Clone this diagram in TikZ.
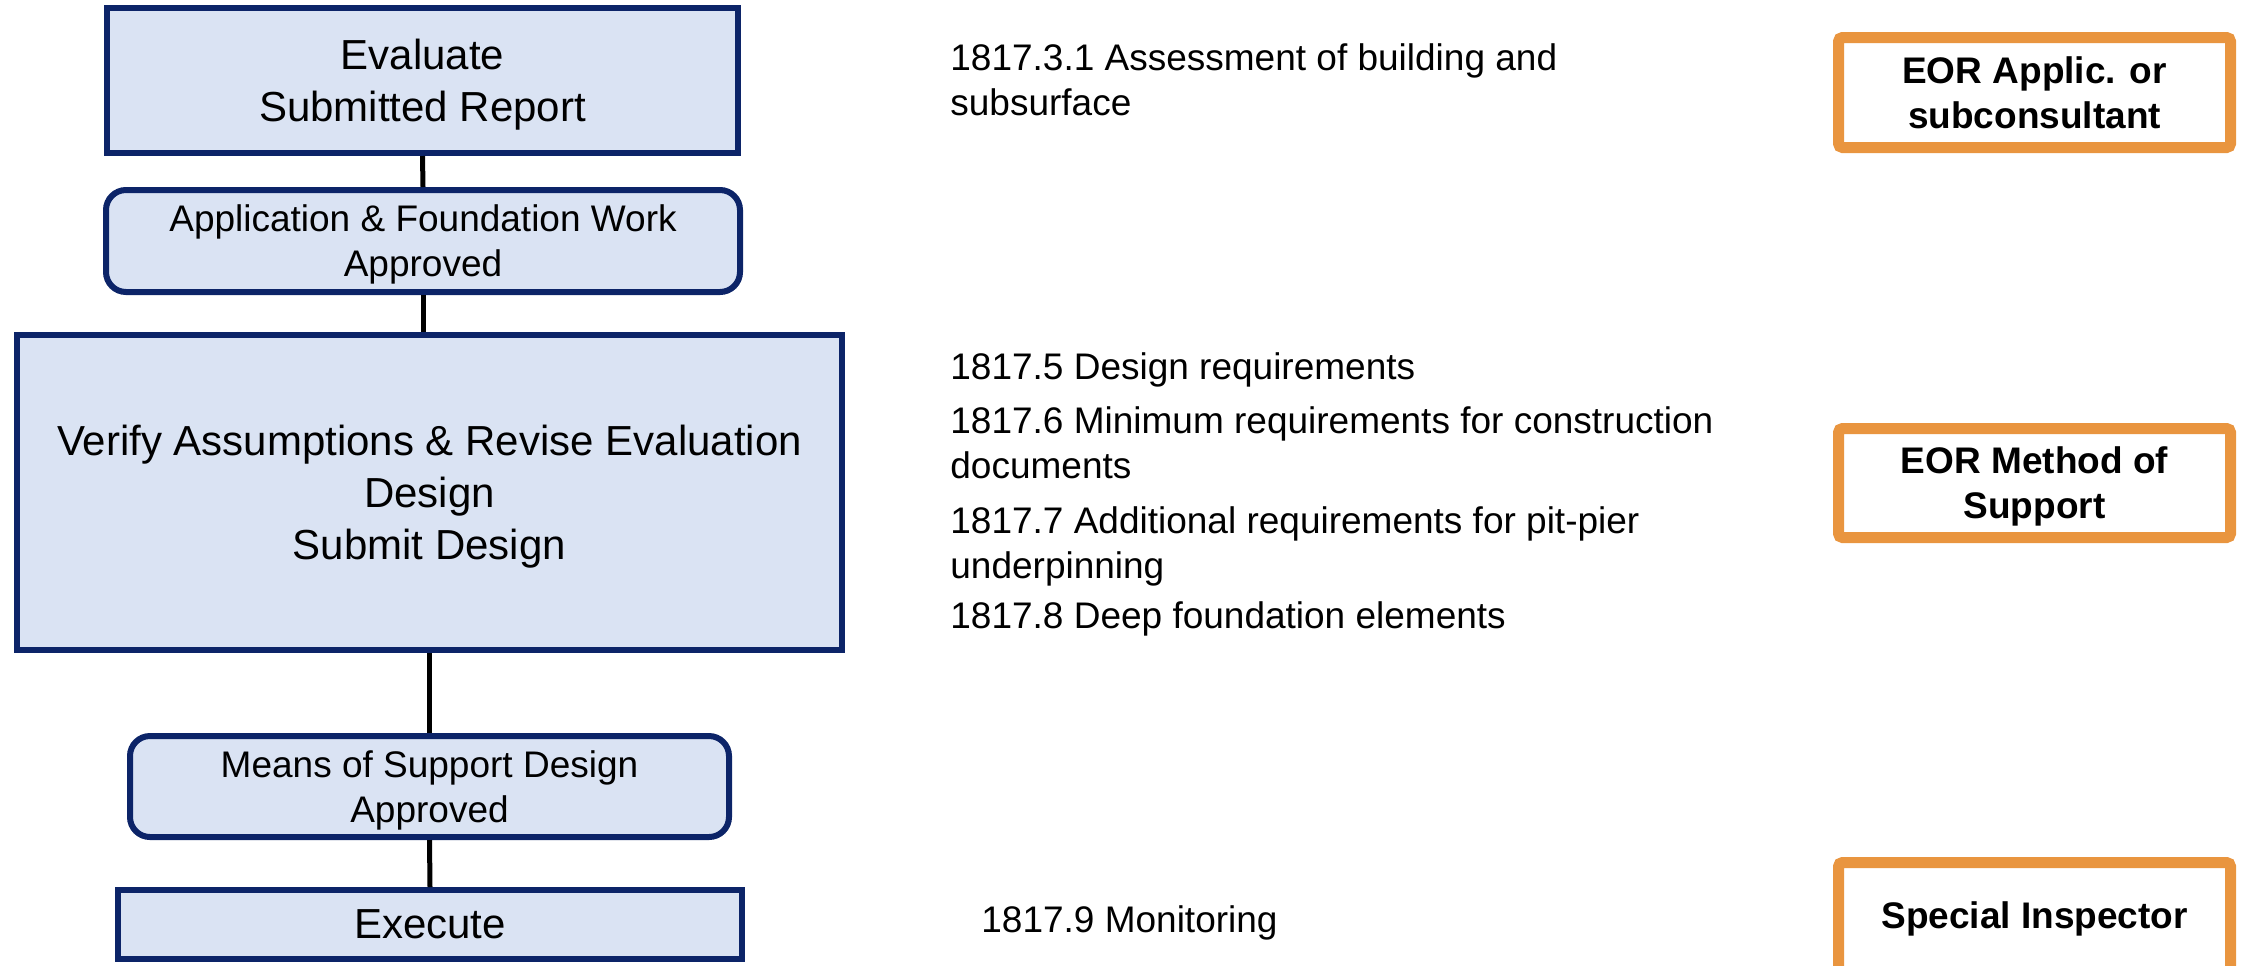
\documentclass[tikz,border=0pt]{standalone}
\usepackage{fontspec}
\setmainfont{Liberation Sans}
\usetikzlibrary{positioning}
\definecolor{navyc}{HTML}{0C2468}
\definecolor{paleb}{HTML}{DAE3F3}
\definecolor{orangec}{HTML}{E9953F}
\tikzset{
  stage/.style={draw=navyc,line width=3pt,fill=paleb,align=center,inner sep=0pt,text depth=0pt},
  stager/.style={stage,rounded corners=10pt},
  bigt/.style={font=\fontsize{21}{26}\selectfont},
  smallt/.style={font=\fontsize{18.5}{22.5}\selectfont},
  role/.style={draw=orangec,line width=5.5pt,fill=white,rounded corners=2pt,align=center,inner sep=0pt,
    minimum width=196pt,font=\bfseries\fontsize{18.5}{22.5}\selectfont},
  clause/.style={anchor=base west,align=left,inner sep=0pt,font=\fontsize{18.5}{22.5}\selectfont},
  link/.style={line width=2.5pt,black}
}

\begin{document}
\begin{tikzpicture}[x=0.5pt,y=-0.5pt]
\useasboundingbox (0,0) rectangle (2241,965);
\clip (0,0) rectangle (2241,965);
% process column
\node[stage,bigt,minimum width=315.5pt,minimum height=72.5pt] (evalrep) at (422.5,80.5) {Evaluate\\Submitted Report};
\node[stager,smallt,minimum width=317pt,minimum height=51pt] (appok) at (423,241) {Application \& Foundation Work\\Approved};
\node[stage,bigt,minimum width=412.5pt,minimum height=157.5pt] (verify) at (429.5,492.5) {Verify Assumptions \& Revise Evaluation\\Design\\Submit Design};
\node[stager,smallt,minimum width=299.5pt,minimum height=50.5pt] (meansok) at (429.5,786.5) {Means of Support Design\\Approved};
\node[stage,bigt,minimum width=312pt,minimum height=34.5pt] (execute) at (430,924.5) {Execute};
\draw[link] (evalrep.south) -- (appok.north);
\draw[link] (appok.south) -- (appok.south |- verify.north);
\draw[link] (verify.south) -- (meansok.north);
\draw[link] (meansok.south) -- (execute.north);
% code sections (base = last line)
\node[clause] (c3) at (950,115) {1817.3.1 Assessment of building and\\subsurface};
\node[clause] (c5) at (950,379) {1817.5 Design requirements};
\node[clause] (c6) at (950,478) {1817.6 Minimum requirements for construction\\documents};
\node[clause] (c7) at (950,578) {1817.7 Additional requirements for pit-pier\\underpinning};
\node[clause] (c8) at (950,628) {1817.8 Deep foundation elements};
\node[clause] (c9) at (981,932) {1817.9 Monitoring};
% responsible parties
\node[role,minimum height=55pt] (eorapp) at (2034.5,92.5) {EOR Applic. or\\subconsultant};
\node[role,text depth=0pt,minimum height=54.5pt] (eormos) at (2034.5,483) {EOR Method of\\Support};
\node[role,minimum height=56.25pt] (specins) at (2034.5,918.75) {Special Inspector};
\end{tikzpicture}
\end{document}
